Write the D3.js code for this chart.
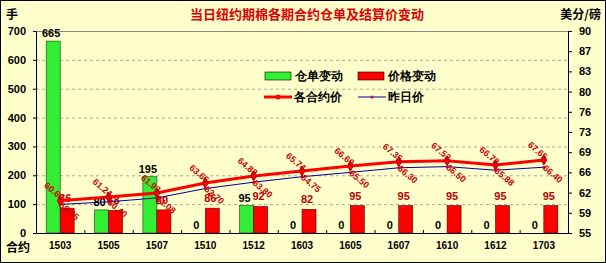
<!DOCTYPE html>
<html>
<head>
<meta charset="utf-8">
<script src="https://cdn.jsdelivr.net/npm/d3@7"></script>
<style>
  body { margin: 0; background: #fff; }
  text { font-family: "Liberation Sans", Arial, sans-serif; }
  .cjk { font-family: "Noto Sans CJK SC", sans-serif; }
</style>
</head>
<body>
<script>
// contract months and values
var contracts = ["1503", "1505", "1507", "1510", "1512", "1603", "1605", "1607", "1610", "1612", "1703"];
var warrantChange = [665, 80, 195, 0, 95, 0, 0, 0, 0, 0, 0];
var priceChange = [86, 78, 80, 86, 92, 82, 95, 95, 95, 95, 95];
var settlePrice = [60.60, 61.24, 61.93, 63.66, 64.88, 65.74, 66.60, 67.35, 67.53, 66.78, 67.65];
var prevPrice = [59.95, 60.40, 61.08, 62.70, 63.80, 64.75, 65.50, 66.30, 66.50, 65.88, 66.40];
var leftTicks = [0, 100, 200, 300, 400, 500, 600, 700];
var rightTicks = [55, 58.5, 62, 65.5, 69, 72.5, 76, 79.5, 83, 86.5, 90];

var W = 606, H = 263;
var plot = { left: 36, right: 568, top: 31, bottom: 233 };

var svg = d3.select("body").append("svg")
    .attr("width", W)
    .attr("height", H);

// background + outer frame
svg.append("rect")
    .attr("x", 0.5).attr("y", 0.5)
    .attr("width", W - 1).attr("height", H - 1)
    .attr("fill", "#ffffcc")
    .attr("stroke", "#000");

var x = d3.scaleBand().domain(contracts).range([plot.left, plot.right]);
var xs = d3.scaleBand().domain(["w", "p"]).range([x.bandwidth() / 2 - 14, x.bandwidth() / 2 + 14]);
var yL = d3.scaleLinear().domain([0, 700]).range([plot.bottom, plot.top]);
var yR = d3.scaleLinear().domain([55, 90]).range([plot.bottom, plot.top]);

// gridlines
svg.append("g").selectAll("line")
    .data(leftTicks.slice(1, -1))
    .enter().append("line")
    .attr("x1", plot.left).attr("x2", plot.right)
    .attr("y1", d => yL(d) + 0.5).attr("y2", d => yL(d) + 0.5)
    .attr("stroke", "#a8a8a0")
    .attr("stroke-dasharray", "3,3");

// top border of plot
svg.append("line")
    .attr("x1", plot.left).attr("x2", plot.right)
    .attr("y1", plot.top + 0.5).attr("y2", plot.top + 0.5)
    .attr("stroke", "#888");

// bars
var g = svg.append("g");
g.selectAll("rect.w")
    .data(warrantChange)
    .enter().append("rect")
    .attr("class", "w")
    .attr("x", (d, i) => x(contracts[i]) + xs("w"))
    .attr("width", xs.bandwidth())
    .attr("y", d => yL(d))
    .attr("height", d => plot.bottom - yL(d))
    .attr("fill", "#33ee33")
    .attr("stroke", "#004400")
    .attr("stroke-width", 0.6);

g.selectAll("rect.p")
    .data(priceChange)
    .enter().append("rect")
    .attr("class", "p")
    .attr("x", (d, i) => x(contracts[i]) + xs("p"))
    .attr("width", xs.bandwidth())
    .attr("y", d => yL(d))
    .attr("height", d => plot.bottom - yL(d))
    .attr("fill", "#ff0000")
    .attr("stroke", "#550000")
    .attr("stroke-width", 0.6);

// bar labels
g.selectAll("text.wl")
    .data(warrantChange)
    .enter().append("text")
    .attr("x", (d, i) => x(contracts[i]) + xs("w") + xs.bandwidth() / 2 - 2)
    .attr("y", d => yL(d) - 4)
    .attr("text-anchor", "middle")
    .attr("font-size", "11px")
    .attr("font-weight", "bold")
    .attr("fill", "#000")
    .text(d => d);

g.selectAll("text.pl")
    .data(priceChange)
    .enter().append("text")
    .attr("x", (d, i) => x(contracts[i]) + xs("p") + xs.bandwidth() / 2 - 2)
    .attr("y", d => yL(d) - 6)
    .attr("text-anchor", "middle")
    .attr("font-size", "11px")
    .attr("font-weight", "bold")
    .attr("fill", "#c00000")
    .text(d => d);

// price lines
var cx = (d, i) => x(contracts[i]) + x.bandwidth() / 2;
var lineR = d3.line().x(cx).y(d => yR(d));

svg.append("path")
    .datum(prevPrice)
    .attr("d", lineR)
    .attr("fill", "none")
    .attr("stroke", "#000099")
    .attr("stroke-width", 1);
svg.append("g").selectAll("circle")
    .data(prevPrice)
    .enter().append("circle")
    .attr("cx", cx).attr("cy", d => yR(d))
    .attr("r", 1.5)
    .attr("fill", "#cc0066");

svg.append("path")
    .datum(settlePrice)
    .attr("d", lineR)
    .attr("fill", "none")
    .attr("stroke", "#ff0000")
    .attr("stroke-width", 3);
svg.append("g").selectAll("path")
    .data(settlePrice)
    .enter().append("path")
    .attr("d", d3.symbol().type(d3.symbolDiamond).size(28))
    .attr("transform", (d, i) => `translate(${cx(d, i)},${yR(d)})`)
    .attr("fill", "#ff0000")
    .attr("stroke", "#aa0000");

// rotated price labels
svg.append("g").selectAll("text")
    .data(settlePrice)
    .enter().append("text")
    .attr("transform", (d, i) => `translate(${cx(d, i) - 8},${yR(d) - 7}) rotate(40)`)
    .attr("text-anchor", "middle")
    .attr("font-size", "9px")
    .attr("font-weight", "bold")
    .attr("fill", "#cc0000")
    .text(d => d.toFixed(2));

svg.append("g").selectAll("text")
    .data(prevPrice)
    .enter().append("text")
    .attr("transform", (d, i) => `translate(${cx(d, i) + 7},${yR(d) + 9}) rotate(40)`)
    .attr("text-anchor", "middle")
    .attr("font-size", "9px")
    .attr("font-weight", "bold")
    .attr("fill", "#cc0000")
    .text(d => d.toFixed(2));

// axes
var axL = svg.append("g")
    .attr("transform", `translate(${plot.left},0)`)
    .call(d3.axisLeft(yL).tickValues(leftTicks).tickSize(3).tickPadding(7));
var axR = svg.append("g")
    .attr("transform", `translate(${plot.right},0)`)
    .call(d3.axisRight(yR).tickValues(rightTicks).tickSize(4).tickPadding(7)
        .tickFormat(d => Math.round(d)));
var axB = svg.append("g")
    .attr("transform", `translate(0,${plot.bottom})`)
    .call(d3.axisBottom(x).tickSize(0).tickPadding(9));

[axL, axR, axB].forEach(a => {
    a.select(".domain").attr("stroke", "#000");
    a.selectAll("text")
        .attr("font-family", "Liberation Sans, Arial, sans-serif")
        .attr("font-size", "11px")
        .attr("font-weight", "bold")
        .attr("fill", "#000");
});
axB.selectAll("text").attr("font-size", "10px");

// small ticks between categories
svg.append("g").selectAll("line")
    .data(contracts.slice(1))
    .enter().append("line")
    .attr("x1", d => x(d) + 0.5).attr("x2", d => x(d) + 0.5)
    .attr("y1", plot.bottom).attr("y2", plot.bottom - 3)
    .attr("stroke", "#000");

// titles and unit labels
svg.append("text")
    .attr("class", "cjk")
    .attr("x", 307).attr("y", 19)
    .attr("text-anchor", "middle")
    .attr("font-size", "13px")
    .attr("font-weight", "bold")
    .attr("fill", "#e00000")
    .text("当日纽约期棉各期合约仓单及结算价变动");

svg.append("text").attr("class", "cjk")
    .attr("x", 6).attr("y", 19)
    .attr("font-size", "12px").attr("font-weight", "bold")
    .text("手");
svg.append("text").attr("class", "cjk")
    .attr("x", 601).attr("y", 19)
    .attr("text-anchor", "end")
    .attr("font-size", "12px").attr("font-weight", "bold")
    .text("美分/磅");
svg.append("text").attr("class", "cjk")
    .attr("x", 6).attr("y", 252)
    .attr("font-size", "12px").attr("font-weight", "bold")
    .text("合约");

// legend
var legend = svg.append("g").attr("class", "cjk");
var legendItems = [
    { label: "仓单变动", type: "bar", color: "#33ee33", x: 265, y: 76 },
    { label: "价格变动", type: "bar", color: "#ff0000", x: 358, y: 76 },
    { label: "各合约价", type: "thick", color: "#ff0000", x: 264, y: 97 },
    { label: "昨日价", type: "thin", color: "#000099", x: 358, y: 97 }
];
legendItems.forEach(d => {
    if (d.type === "bar") {
        legend.append("rect")
            .attr("x", d.x).attr("y", d.y - 4)
            .attr("width", 26).attr("height", 8)
            .attr("fill", d.color).attr("stroke", "#000").attr("stroke-width", 0.6);
    } else {
        legend.append("line")
            .attr("x1", d.x).attr("x2", d.x + 28)
            .attr("y1", d.y).attr("y2", d.y)
            .attr("stroke", d.color)
            .attr("stroke-width", d.type === "thick" ? 3 : 1);
        legend.append("circle")
            .attr("cx", d.x + 14).attr("cy", d.y)
            .attr("r", d.type === "thick" ? 2.5 : 1.5)
            .attr("fill", d.type === "thick" ? "#ff0000" : "#cc0066");
    }
    legend.append("text")
        .attr("x", d.x + 30).attr("y", d.y + 4)
        .attr("font-size", "12px").attr("font-weight", "bold")
        .text(d.label);
});
</script>
</body>
</html>
